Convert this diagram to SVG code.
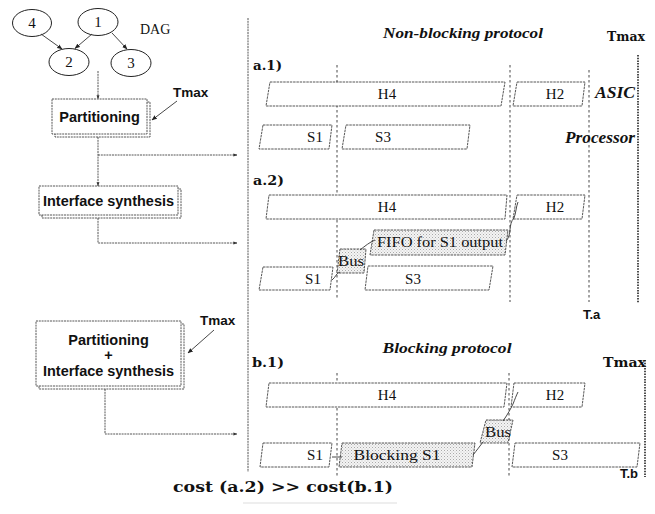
<svg xmlns="http://www.w3.org/2000/svg" width="655" height="514" viewBox="0 0 655 514">
  <style>
    .ln { fill: none; stroke: #333; stroke-width: 0.9; }
    .flow { fill: none; stroke: #444; stroke-width: 0.9; stroke-dasharray: 2 0.8; }
    .box { fill: #fff; stroke: #444; stroke-width: 0.9; stroke-dasharray: 2 0.8; }
    .node { fill: #fff; stroke: #222; stroke-width: 1; }
    .task { fill: #fff; stroke: #444; stroke-width: 0.9; stroke-dasharray: 2.5 0.8; }
    .stip { fill: url(#stipple); stroke: #444; stroke-width: 0.9; stroke-dasharray: 2.5 0.8; }
    .grid { stroke: #333; stroke-width: 0.9; stroke-dasharray: 2.5 2.5; }
    .tmaxln { stroke: #222; stroke-width: 1.6; stroke-dasharray: 1.5 1.2; }
    .num { font-family: "Liberation Serif", serif; font-size: 15px; fill: #111; text-anchor: middle; }
    .sans { font-family: "Liberation Sans", Arial, sans-serif; font-weight: bold; fill: #111; }
    .serif { font-family: "Liberation Serif", serif; font-size: 15px; fill: #111; text-anchor: middle; }
    .bi { font-family: "Liberation Serif", serif; font-weight: bold; font-style: italic; fill: #111; }
    .slab { font-family: "DejaVu Serif", serif; font-weight: bold; fill: #111; }
  </style>
  <defs>
    <marker id="arr" viewBox="0 0 10 10" refX="9" refY="5" markerWidth="6" markerHeight="6" orient="auto">
      <path d="M0,1 L10,5 L0,9 z" fill="#222"/>
    </marker>
    <marker id="arrs" viewBox="0 0 10 10" refX="9" refY="5" markerWidth="4.5" markerHeight="4.5" orient="auto">
      <path d="M0,1.5 L10,5 L0,8.5 z" fill="#333"/>
    </marker>
    <pattern id="stipple" width="3" height="3" patternUnits="userSpaceOnUse">
      <rect width="3" height="3" fill="#f4f4f4"/>
      <rect x="0" y="0" width="1" height="1" fill="#aaa"/>
      <rect x="1.5" y="1.5" width="1" height="1" fill="#c4c4c4"/>
    </pattern>
  </defs>

  <rect width="655" height="514" fill="#fff"/>

  <!-- Task graph -->
  <g id="dag">
    <g id="n4"><ellipse class="node" cx="32" cy="23" rx="19.5" ry="13.5"/><text class="num" x="32" y="28">4</text></g>
    <g id="n1"><ellipse class="node" cx="98" cy="22" rx="20" ry="13.5"/><text class="num" x="98" y="27">1</text></g>
    <g id="n2"><ellipse class="node" cx="69" cy="62" rx="20" ry="13.5"/><text class="num" x="69" y="67">2</text></g>
    <g id="n3"><ellipse class="node" cx="131" cy="63" rx="20" ry="13.5"/><text class="num" x="131" y="68">3</text></g>
    <text x="140" y="34" font-family="Liberation Serif, serif" font-size="14" fill="#111">DAG</text>
    <g id="dag-edges">
      <line class="ln" x1="41" y1="34" x2="62" y2="49" marker-end="url(#arr)"/>
      <line class="ln" x1="92" y1="34" x2="75" y2="48.5" marker-end="url(#arr)"/>
      <line class="ln" x1="112" y1="33" x2="127" y2="49" marker-end="url(#arr)"/>
    </g>
  </g>

  <!-- Design flow -->
  <g id="partitioning">
    <rect class="box" x="55" y="102" width="95" height="35"/>
    <rect class="box" x="52" y="99" width="95" height="35"/>
    <text class="sans" x="99.5" y="122" font-size="14.5" text-anchor="middle">Partitioning</text>
  </g>
  <g id="tmax-1">
    <text class="sans" x="173" y="97" font-size="13.5">Tmax</text>
  </g>
  <g id="interface-synthesis">
    <rect class="box" x="42" y="189" width="139" height="29"/>
    <rect class="box" x="39" y="186" width="139" height="29"/>
    <text class="sans" x="108.5" y="206" font-size="14.5" text-anchor="middle" textLength="131" lengthAdjust="spacingAndGlyphs">Interface synthesis</text>
  </g>
  <g id="partitioning-interface">
    <rect class="box" x="39" y="324" width="145" height="65"/>
    <rect class="box" x="36" y="321" width="145" height="65"/>
    <text class="sans" x="108.5" y="345" font-size="14.5" text-anchor="middle">Partitioning</text>
    <text class="sans" x="108.5" y="360" font-size="14.5" text-anchor="middle">+</text>
    <text class="sans" x="108.5" y="376" font-size="14.5" text-anchor="middle" textLength="131" lengthAdjust="spacingAndGlyphs">Interface synthesis</text>
  </g>
  <g id="tmax-2">
    <text class="sans" x="200" y="325" font-size="13.5">Tmax</text>
  </g>

  <g id="flow-connectors">
    <line class="flow" x1="98" y1="71" x2="98" y2="99" marker-end="url(#arrs)"/>
    <line class="ln" x1="177" y1="101" x2="152" y2="120" marker-end="url(#arr)"/>
    <line class="flow" x1="98" y1="137" x2="98" y2="186" marker-end="url(#arrs)"/>
    <line class="flow" x1="98" y1="155" x2="237" y2="155" marker-end="url(#arrs)"/>
    <polyline class="flow" points="98,218 98,243 237,243" marker-end="url(#arrs)"/>
    <line class="ln" x1="214" y1="330" x2="188" y2="353" marker-end="url(#arr)"/>
    <polyline class="flow" points="105,389 105,434 237,434" marker-end="url(#arrs)"/>
  </g>

  <!-- Divider between flow and schedules -->
  <line x1="248" y1="18" x2="248" y2="472" stroke="#555" stroke-width="1" stroke-dasharray="2 0.8"/>

  <!-- Non-blocking schedules -->
  <g id="nonblocking">
    <text class="bi" x="463" y="38" font-size="15" text-anchor="middle" textLength="160" lengthAdjust="spacingAndGlyphs">Non-blocking protocol</text>
    <text class="slab" x="607" y="41" font-size="13" textLength="38" lengthAdjust="spacingAndGlyphs">Tmax</text>
    <line class="grid" x1="337" y1="65" x2="337" y2="300"/>
    <line class="grid" x1="510" y1="65" x2="510" y2="302"/>
    <line class="grid" x1="589" y1="70" x2="589" y2="302"/>
    <line class="tmaxln" x1="638" y1="55" x2="638" y2="303"/>
    <text class="sans" x="583" y="319" font-size="13">T.a</text>

    <g id="a1">
      <text class="slab" x="253" y="70" font-size="12.5" textLength="29" lengthAdjust="spacingAndGlyphs">a.1)</text>
      <g id="a1-h4"><polygon class="task" points="270,82 505,82 501,106 266,106"/><text class="serif" x="387" y="99">H4</text></g>
      <g id="a1-h2"><polygon class="task" points="517,82 585,82 582,106 513,106"/><text class="serif" x="555" y="99">H2</text></g>
      <g id="a1-s1"><polygon class="task" points="263,125 332,125 329,149 259,149"/><text class="serif" x="315" y="142">S1</text></g>
      <g id="a1-s3"><polygon class="task" points="346,125 470,125 467,149 342,149"/><text class="serif" x="383" y="142">S3</text></g>
      <text class="bi" x="635" y="98" font-size="16" text-anchor="end" textLength="40" lengthAdjust="spacingAndGlyphs">ASIC</text>
      <text class="bi" x="635" y="143" font-size="16" text-anchor="end" textLength="70" lengthAdjust="spacingAndGlyphs">Processor</text>
    </g>

    <g id="a2">
      <text class="slab" x="253" y="185" font-size="12.5" textLength="31" lengthAdjust="spacingAndGlyphs">a.2)</text>
      <g id="a2-h4"><polygon class="task" points="269,195 507,195 505,219 266,219"/><text class="serif" x="387" y="212">H4</text></g>
      <g id="a2-h2"><polygon class="task" points="517,195 585,195 582,219 513,219"/><text class="serif" x="555" y="212">H2</text></g>
      <g id="a2-fifo"><polygon class="stip" points="374,230 508,230 505,255 370,255"/><text class="serif" x="440" y="247" textLength="126" lengthAdjust="spacingAndGlyphs">FIFO for S1 output</text></g>
      <g id="a2-bus"><polygon class="stip" points="340,249 366,249 364,273 337,273"/><text class="serif" x="351" y="266" textLength="26" lengthAdjust="spacingAndGlyphs">Bus</text></g>
      <g id="a2-s1"><polygon class="task" points="263,267 333,267 330,290 259,290"/><text class="serif" x="313" y="284">S1</text></g>
      <g id="a2-s3"><polygon class="task" points="368,266 493,266 489,290 365,290"/><text class="serif" x="413" y="284">S3</text></g>
      <g id="a2-links">
        <path class="ln" d="M332,280 C336,277 336,273 340,272"/>
        <path class="ln" d="M360,250 C365,246 370,242 375,240"/>
        <path class="ln" d="M506,241 C512,235 508,224 514,218 C516,213 516,207 518,202"/>
      </g>
    </g>
  </g>

  <!-- Blocking schedule -->
  <g id="blocking">
    <text class="bi" x="447" y="353" font-size="15" text-anchor="middle" textLength="129" lengthAdjust="spacingAndGlyphs">Blocking protocol</text>
    <text class="slab" x="252" y="367" font-size="12.5" textLength="32" lengthAdjust="spacingAndGlyphs">b.1)</text>
    <text class="slab" x="603" y="367" font-size="13" textLength="43" lengthAdjust="spacingAndGlyphs">Tmax</text>
    <line class="grid" x1="337" y1="373" x2="337" y2="477"/>
    <line class="grid" x1="509" y1="373" x2="509" y2="477"/>
    <line class="tmaxln" x1="645" y1="360" x2="645" y2="477"/>
    <text class="sans" x="620" y="478" font-size="13">T.b</text>

    <g id="b1-h4"><polygon class="task" points="269,383 507,383 504,407 266,407"/><text class="serif" x="387" y="400">H4</text></g>
    <g id="b1-h2"><polygon class="task" points="514,383 585,383 582,407 511,407"/><text class="serif" x="555" y="400">H2</text></g>
    <g id="b1-bus"><polygon class="stip" points="486,420 513,420 508,443 480,443"/><text class="serif" x="498" y="437" textLength="26" lengthAdjust="spacingAndGlyphs">Bus</text></g>
    <g id="b1-s1"><polygon class="task" points="263,443 332,443 329,467 260,467"/><text class="serif" x="315" y="460">S1</text></g>
    <g id="b1-blocking"><polygon class="stip" points="342,443 475,443 472,467 339,467"/><text class="serif" x="397" y="460" textLength="87" lengthAdjust="spacingAndGlyphs">Blocking S1</text></g>
    <g id="b1-s3"><polygon class="task" points="515,443 640,443 637,467 512,467"/><text class="serif" x="560" y="460">S3</text></g>
    <g id="b1-links">
      <line class="ln" x1="332" y1="457" x2="342" y2="457"/>
      <path class="ln" d="M473,455 C477,450 480,446 483,442"/>
      <path class="ln" d="M503,421 C508,414 511,408 513,404 C515,399 516,396 518,392"/>
    </g>
  </g>

  <!-- Cost comparison -->
  <text class="slab" x="283" y="492" font-size="15" text-anchor="middle" textLength="220" lengthAdjust="spacingAndGlyphs">cost (a.2) &gt;&gt; cost(b.1)</text>
  <line x1="243" y1="503" x2="397" y2="503" stroke="#ddd" stroke-width="1"/>
</svg>
